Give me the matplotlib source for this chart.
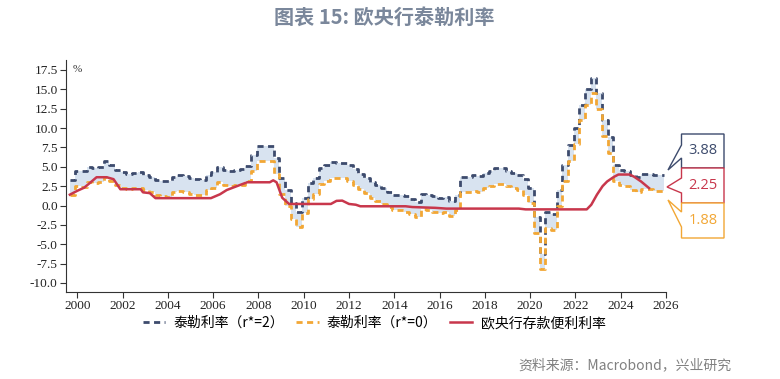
import numpy as np
import matplotlib
matplotlib.use("Agg")
import matplotlib.pyplot as plt
from matplotlib.patches import Polygon

plt.rcParams['font.family'] = ['Noto Sans CJK SC', 'DejaVu Sans']

# quarterly Taylor-rule estimates, first quarter starts Sep 1999
taylor_r2 = [3.3, 4.5, 4.4, 5.0, 4.9, 5.0, 5.7, 5.2, 4.6, 4.3,
             4.1, 4.2, 4.3, 4.0, 3.7, 3.3, 3.2, 3.1, 3.7, 3.9,
             3.8, 3.5, 3.4, 3.3, 4.0, 4.3, 5.0, 4.6, 4.5, 4.6,
             4.7, 5.1, 6.5, 7.7, 7.7, 7.7, 6.1, 3.5, 2.0, 0.3,
             -0.8, 1.0, 2.9, 3.5, 4.8, 5.2, 5.6, 5.5, 5.5, 5.2,
             4.7, 4.1, 3.6, 3.0, 2.6, 2.2, 1.8, 1.4, 1.4, 1.2,
             0.9, 0.5, 1.5, 1.4, 1.2, 1.0, 1.1, 0.6, 1.4, 3.7,
             3.7, 3.9, 3.8, 4.2, 4.5, 4.8, 4.8, 4.5, 4.2, 4.0,
             3.4, 2.3, -1.5, -6.2, -0.9, -1.1, 2.0, 5.2, 7.8, 10.0,
             13.0, 15.0, 16.5, 14.5, 11.0, 8.8, 5.2, 4.6, 4.5, 4.0,
             3.7, 4.1, 4.1, 3.9, 3.88]
taylor_r0 = [1.3, 2.5, 2.4, 3.0, 2.9, 3.0, 3.7, 3.2, 2.6, 2.3,
             2.1, 2.2, 2.3, 2.0, 1.7, 1.3, 1.2, 1.1, 1.7, 1.9,
             1.8, 1.5, 1.4, 1.3, 2.0, 2.3, 3.0, 2.6, 2.5, 2.6,
             2.7, 3.1, 4.5, 5.7, 5.7, 5.7, 4.1, 1.5, 0.0, -1.7,
             -2.8, -1.0, 0.9, 1.5, 2.8, 3.2, 3.6, 3.5, 3.5, 3.2,
             2.7, 2.1, 1.6, 1.0, 0.6, 0.2, -0.2, -0.6, -0.6, -0.8,
             -1.1, -1.5, -0.5, -0.6, -0.8, -1.0, -0.9, -1.4, -0.6, 1.7,
             1.7, 1.9, 1.8, 2.2, 2.5, 2.8, 2.8, 2.5, 2.2, 2.0,
             1.4, 0.3, -3.5, -8.2, -2.9, -3.1, 0.0, 3.2, 5.8, 8.0,
             11.0, 13.0, 14.5, 12.5, 9.0, 6.8, 3.2, 2.6, 2.5, 2.0,
             1.7, 2.1, 2.1, 1.9, 1.88]

# ECB deposit facility rate
dfr_dates = [1999.67, 2000.0, 2000.3, 2000.55, 2000.85, 2001.3, 2001.6, 2001.9,
             2002.8, 2002.9, 2003.2, 2003.45, 2005.9, 2006.3, 2006.6, 2007.05,
             2007.5, 2008.5, 2008.65, 2008.8, 2008.9, 2009.05, 2009.35, 2011.2,
             2011.45, 2011.7, 2012.0, 2012.3, 2012.5, 2014.5, 2014.8, 2015.8,
             2016.3, 2019.5, 2019.8, 2022.5, 2022.7, 2022.95, 2023.2, 2023.4,
             2023.7, 2023.9, 2024.4, 2024.6, 2024.9, 2025.25]
dfr_rate = [1.4, 1.9, 2.3, 2.9, 3.65, 3.65, 3.4, 2.1,
            2.1, 1.7, 1.6, 0.95, 0.95, 1.45, 2.0, 2.5,
            3.0, 3.0, 3.25, 3.0, 2.2, 1.0, 0.2, 0.2,
            0.6, 0.63, 0.2, 0.1, -0.1, -0.1, -0.2, -0.3,
            -0.4, -0.4, -0.5, -0.5, 0.1, 1.4, 2.5, 3.1,
            3.7, 4.0, 4.0, 3.7, 3.1, 2.25]

labels = ['泰勒利率（r*=2）', '泰勒利率（r*=0）', '欧央行存款便利利率']
c_navy = '#3d4b6d'
c_orange = '#f2a735'
c_red = '#c8374c'

quarters = 1999 + 8 / 12 + 0.25 * np.arange(len(taylor_r2))
qx = np.append(quarters, quarters[-1] + 0.25)
y2 = np.append(taylor_r2, taylor_r2[-1])
y0 = np.append(taylor_r0, taylor_r0[-1])

W, H = 780, 379
fig = plt.figure(figsize=(W / 100, H / 100), dpi=100)
ax = fig.add_axes([66 / W, 1 - 292 / H, 600 / W, 232 / H])

ax.fill_between(qx, y0, y2, step='post', color='#d8e3f0', lw=0)
ax.plot(qx, y2, drawstyle='steps-post', color=c_navy, lw=2.0,
        ls=(0, (2.2, 1.6)), label=labels[0])
ax.plot(qx, y0, drawstyle='steps-post', color=c_orange, lw=2.0,
        ls=(0, (2.2, 1.6)), label=labels[1])
ax.plot(dfr_dates, dfr_rate, color=c_red, lw=1.8, label=labels[2])

ax.set_xlim(1999.5, 2026)
ax.set_ylim(-11.17, 18.79)
ax.set_xticks(np.arange(2000, 2027, 2))
ax.set_yticks(np.arange(-10, 17.6, 2.5))
ax.set_yticklabels([f'{v:.1f}' for v in np.arange(-10, 17.6, 2.5)])
for s in ['top', 'right']:
    ax.spines[s].set_visible(False)
for s in ['left', 'bottom']:
    ax.spines[s].set_color('#333333')
    ax.spines[s].set_linewidth(0.8)
ax.tick_params(direction='out', length=4, width=0.8, color='#333333',
               labelsize=9.5, labelcolor='#222222', pad=2)
for t in ax.get_xticklabels() + ax.get_yticklabels():
    t.set_family('Liberation Serif')

fig.text(73 / W, 1 - 70 / H, '%', family='Liberation Serif', fontsize=8,
         color='#333333', va='center')

fig.text(384 / W, 1 - 17 / H, '图表 15: 欧央行泰勒利率', ha='center', va='center',
         fontsize=14.5, fontweight='bold', color='#7a879b')

fig.legend(loc='center', bbox_to_anchor=(374 / W, 1 - 323 / H), ncol=3,
           frameon=False, fontsize=10, handlelength=1.6, handletextpad=0.6,
           columnspacing=0.9, borderpad=0)

fig.text(518 / W, 1 - 365 / H, '资料来源：Macrobond，兴业研究', fontsize=10,
         color='#808080', va='center')

# callout boxes at the right end
L, R = 681.5, 724
boxes = [(134, 168, 145, 158, (668, 170), '3.88', c_navy),
         (168, 203, 178, 193, (667, 187), '2.25', c_red),
         (203, 238, 212, 227, (668, 200), '1.88', c_orange)]
for top, bot, ya, yb, apex, txt, col in boxes:
    pts = [(L, top), (R, top), (R, bot), (L, bot), (L, yb), apex, (L, ya)]
    pts = [(x / W, 1 - y / H) for x, y in pts]
    fig.add_artist(Polygon(pts, closed=True, transform=fig.transFigure,
                           facecolor='white', edgecolor=col, lw=1.0))
    fig.text((L + R) / 2 / W, 1 - (top + bot) / 2 / H, txt, ha='center',
             va='center', fontsize=10.5, color=col, family='Open Sans')

fig.savefig('out.png', dpi=100)
